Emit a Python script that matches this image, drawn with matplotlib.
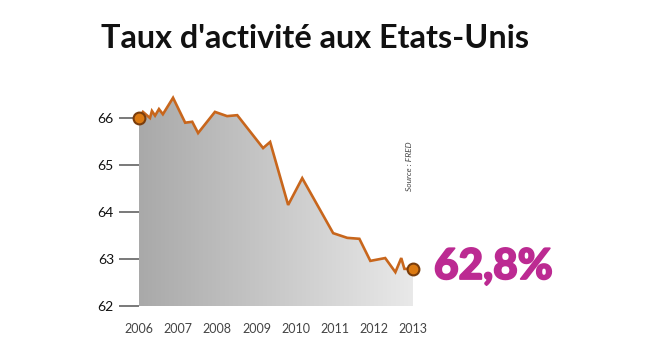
import numpy as np
import matplotlib
matplotlib.use("Agg")
import matplotlib.pyplot as plt
import matplotlib.patheffects as pe
from matplotlib.colors import LinearSegmentedColormap

# taux d'activité (FRED)
dates = [2006.0, 2006.10, 2006.28, 2006.33, 2006.41, 2006.51, 2006.61, 2006.87,
         2007.18, 2007.36, 2007.51, 2007.94, 2008.25, 2008.51, 2009.17, 2009.35,
         2009.81, 2010.17, 2010.96, 2011.32, 2011.63, 2011.91, 2012.29, 2012.55,
         2012.70, 2012.78, 2013.0]
taux = [66.0, 66.13, 66.0, 66.15, 66.05, 66.19, 66.08, 66.43,
        65.9, 65.92, 65.68, 66.13, 66.04, 66.06, 65.36, 65.49,
        64.15, 64.72, 63.55, 63.45, 63.43, 62.96, 63.02, 62.72,
        63.02, 62.79, 62.79]
years = [2006, 2007, 2008, 2009, 2010, 2011, 2012, 2013]
yticks = [62, 63, 64, 65, 66]
last_label = "62,8%"

plt.rcParams['font.family'] = ['Lato', 'DejaVu Sans']

fig = plt.figure(figsize=(6.5, 3.5), dpi=100)
ax = fig.add_axes([139/650, 1 - 306/350, 274/650, 211.5/350])
ax.set_xlim(2006, 2013)
ax.set_ylim(62, 66.5)

# remplissage en dégradé sous la courbe
poly = ax.fill_between(dates, taux, 62, color='none', lw=0)
cmap = LinearSegmentedColormap.from_list('g', ['#a9a9a9', '#e9e9e9'])
grad = np.linspace(0, 1, 256).reshape(1, -1)
img = ax.imshow(grad, extent=[2006, 2013, 62, 66.5], aspect='auto',
                cmap=cmap, origin='lower', zorder=1)
img.set_clip_path(poly.get_paths()[0], transform=ax.transData)

ax.plot(dates, taux, color='#c8661c', lw=1.9, zorder=3, solid_joinstyle='miter')
ax.plot([dates[0], dates[-1]], [taux[0], taux[-1]], 'o', ms=8.5,
        mfc='#dc7a12', mec='#7a3d0c', mew=1.5, zorder=4, clip_on=False)

for s in ax.spines.values():
    s.set_visible(False)
ax.set_yticks(yticks)
ax.set_yticklabels([str(v) for v in yticks], fontsize=10, color='#111111')
ax.tick_params(axis='y', length=14.5, width=1.1, color='#555555', pad=3.5)
ax.set_xticks(years)
ax.set_xticklabels([str(y) for y in years], fontsize=9, color='#444444')
ax.tick_params(axis='x', length=0, pad=12)

fig.text(0.485, 1 - 48/350, "Taux d'activité aux Etats-Unis", fontsize=23.3,
         fontweight='bold', ha='center', va='baseline', color='#111111')
fig.text(434/650, 1 - 279/350, last_label, fontsize=30.5, fontweight='black',
         color='#bc2a92', ha='left', va='baseline',
         path_effects=[pe.withStroke(linewidth=1.3, foreground='#bc2a92')])
fig.text(410/650, 1 - 166/350, "Source : FRED", fontsize=6, style='italic',
         color='#444444', rotation=90, ha='center', va='center')

fig.savefig('out.png', dpi=100)
